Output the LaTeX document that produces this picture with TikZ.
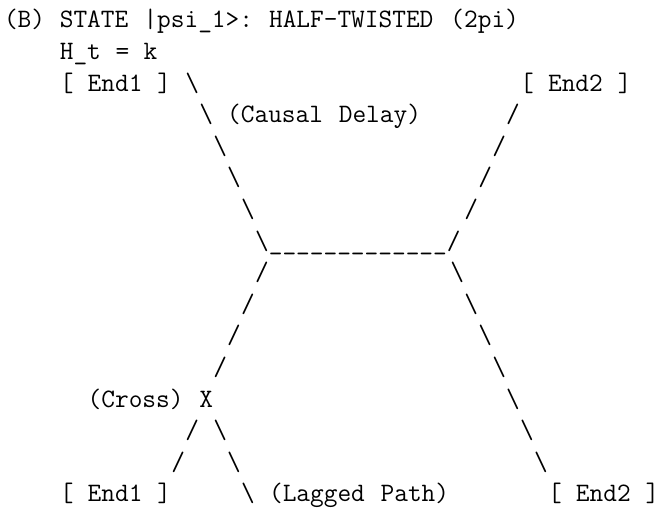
\documentclass[tikz,border=0pt]{standalone}
\usepackage{fontspec}
\tikzset{
  tok/.style={anchor=base west, inner sep=0pt, outer sep=0pt, font=\ttfamily\fontsize{13.3pt}{16pt}\selectfont},
}
\newcommand\tok[4]{\node[tok] (#1) at ({4+13.95*#2},{27.8+31.6*#3}) {#4};}
\begin{document}
\begin{tikzpicture}[x=0.5pt,y=-0.5pt]
\useasboundingbox (0,0) rectangle (659,515);
% row 0
\tok{a1}{0}{0}{(B)}
\tok{a2}{4}{0}{STATE}
\tok{a3}{10}{0}{|psi\_1>:}
\tok{a4}{19}{0}{HALF-TWISTED}
\tok{a5}{32}{0}{(2pi)}
% row 1
\tok{b1}{4}{1}{H\_t}
\tok{b2}{8}{1}{=}
\tok{b3}{10}{1}{k}
% row 2
\tok{c1}{4}{2}{[}
\tok{c2}{6}{2}{End1}
\tok{c3}{11}{2}{]}
\tok{c4}{13}{2}{\textbackslash}
\tok{c5}{37}{2}{[}
\tok{c6}{39}{2}{End2}
\tok{c7}{44}{2}{]}
% row 3
\tok{d1}{14}{3}{\textbackslash}
\tok{d2}{16}{3}{(Causal}
\tok{d3}{24}{3}{Delay)}
\tok{d4}{36}{3}{/}
% rows 4-6
\tok{e1}{15}{4}{\textbackslash}
\tok{e2}{35}{4}{/}
\tok{f1}{16}{5}{\textbackslash}
\tok{f2}{34}{5}{/}
\tok{g1}{17}{6}{\textbackslash}
\tok{g2}{33}{6}{/}
% row 7
\tok{h1}{18}{7}{\textbackslash\_\_\_\_\_\_\_\_\_\_\_\_\_/}
% rows 8-11
\tok{i1}{18}{8}{/}
\tok{i2}{32}{8}{\textbackslash}
\tok{j1}{17}{9}{/}
\tok{j2}{33}{9}{\textbackslash}
\tok{k1}{16}{10}{/}
\tok{k2}{34}{10}{\textbackslash}
\tok{l1}{15}{11}{/}
\tok{l2}{35}{11}{\textbackslash}
% row 12
\tok{m1}{6}{12}{(Cross)}
\tok{m2}{14}{12}{X}
\tok{m3}{36}{12}{\textbackslash}
% row 13
\tok{n1}{13}{13}{/}
\tok{n2}{15}{13}{\textbackslash}
\tok{n3}{37}{13}{\textbackslash}
% row 14
\tok{o1}{12}{14}{/}
\tok{o2}{16}{14}{\textbackslash}
\tok{o3}{38}{14}{\textbackslash}
% row 15
\tok{p1}{4}{15}{[}
\tok{p2}{6}{15}{End1}
\tok{p3}{11}{15}{]}
\tok{p4}{17}{15}{\textbackslash}
\tok{p5}{19}{15}{(Lagged}
\tok{p6}{27}{15}{Path)}
\tok{p7}{39}{15}{[}
\tok{p8}{41}{15}{End2}
\tok{p9}{46}{15}{]}
\end{tikzpicture}
\end{document}
